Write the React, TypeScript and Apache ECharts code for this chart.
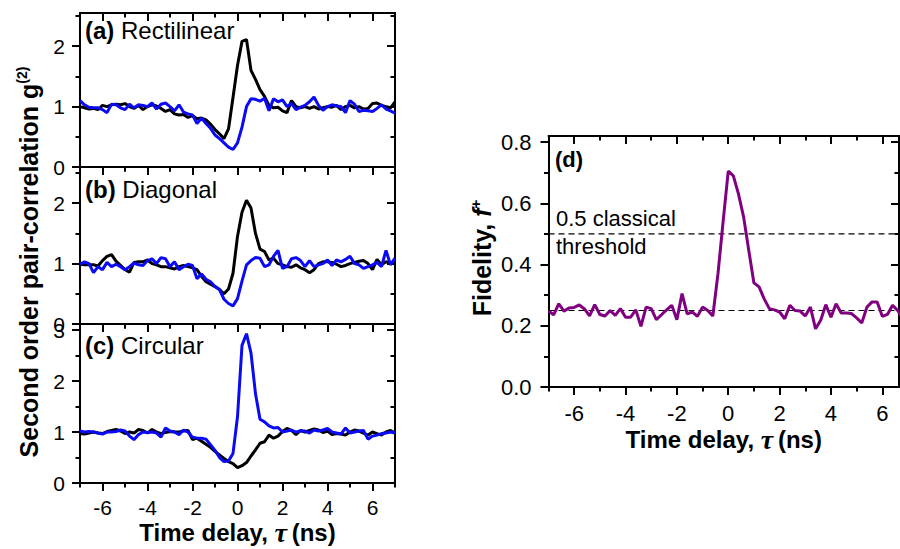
import React, { useEffect, useRef } from "react";
import * as echarts from "echarts";

// time delay grid (ns)
const TAU = [-7, -6.8, -6.6, -6.4, -6.2, -6, -5.8, -5.6, -5.4, -5.2, -5, -4.8, -4.6, -4.4, -4.2, -4, -3.8, -3.6, -3.4, -3.2, -3, -2.8, -2.6, -2.4, -2.2, -2, -1.8, -1.6, -1.4, -1.2, -1, -0.8, -0.6, -0.4, -0.2, 0, 0.2, 0.4, 0.6, 0.8, 1, 1.2, 1.4, 1.6, 1.8, 2, 2.2, 2.4, 2.6, 2.8, 3, 3.2, 3.4, 3.6, 3.8, 4, 4.2, 4.4, 4.6, 4.8, 5, 5.2, 5.4, 5.6, 5.8, 6, 6.2, 6.4, 6.6, 6.8, 7];

// (a) Rectilinear
const A_BLACK = [
  1.00, 0.98, 0.96, 0.97, 0.95, 1.02, 1.00, 1.03, 1.04, 1.03,
  1.05, 1.00, 0.97, 1.02, 0.95, 1.00, 1.03, 1.01, 0.97, 0.92,
  0.95, 0.88, 0.86, 0.87, 0.82, 0.85, 0.80, 0.81, 0.78, 0.71,
  0.62, 0.55, 0.47, 0.63, 1.15, 1.68, 2.08, 2.11, 1.60, 1.45,
  1.28, 1.17, 1.02, 0.98, 0.99, 0.93, 0.90, 1.10, 1.00, 0.98,
  1.00, 0.97, 1.00, 0.96, 0.98, 1.00, 0.99, 1.02, 0.95, 1.00,
  1.02, 0.98, 1.00, 0.96, 0.97, 1.05, 1.06, 1.02, 1.00, 0.98,
  1.08,
];
const A_BLUE = [
  1.10, 1.03, 0.99, 0.98, 0.98, 0.95, 0.90, 1.04, 1.03, 0.98,
  0.95, 1.04, 0.98, 1.03, 1.02, 1.00, 1.06, 0.96, 1.04, 1.06,
  1.00, 0.93, 1.03, 0.91, 0.88, 0.86, 0.72, 0.81, 0.72, 0.64,
  0.53, 0.47, 0.40, 0.33, 0.29, 0.40, 0.66, 1.00, 1.13, 1.12,
  1.09, 1.14, 0.93, 1.13, 1.08, 1.11, 1.00, 1.05, 0.95, 0.99,
  1.02, 1.08, 1.16, 1.02, 0.94, 1.00, 1.03, 1.01, 1.00, 0.90,
  1.10, 1.04, 0.92, 0.94, 0.93, 0.92, 0.97, 1.03, 0.96, 0.93,
  0.89,
];

// (b) Diagonal
const B_BLACK = [
  0.99, 0.98, 0.98, 0.98, 0.96, 1.05, 1.12, 1.15, 1.04, 0.97,
  0.90, 0.86, 1.02, 1.03, 1.03, 1.06, 1.00, 0.98, 0.95, 0.95,
  0.93, 0.91, 0.95, 0.97, 0.95, 0.93, 0.90, 0.79, 0.70, 0.66,
  0.62, 0.57, 0.50, 0.58, 0.84, 1.45, 1.85, 2.05, 1.92, 1.50,
  1.24, 1.20, 1.06, 1.09, 1.00, 0.98, 0.95, 0.94, 0.98, 0.93,
  0.90, 0.85, 0.90, 1.00, 1.03, 1.03, 1.02, 0.99, 0.95, 0.97,
  1.00, 1.02, 1.04, 1.05, 1.00, 0.90, 1.07, 0.98, 1.03, 1.02,
  1.00,
];
const B_BLUE = [
  0.99, 1.03, 1.00, 0.85, 0.95, 0.90, 1.02, 0.95, 0.99, 0.95,
  0.90, 0.95, 1.01, 0.98, 0.97, 1.05, 1.08, 1.00, 1.10, 1.08,
  0.95, 1.03, 0.90, 0.95, 0.99, 0.97, 0.75, 0.83, 0.74, 0.70,
  0.62, 0.57, 0.41, 0.34, 0.30, 0.42, 0.71, 0.98, 1.05, 1.10,
  1.09, 0.95, 0.98, 1.12, 1.22, 0.92, 0.95, 1.08, 1.10, 1.05,
  0.95, 1.05, 0.95, 0.98, 1.00, 1.06, 0.97, 1.06, 1.03, 1.07,
  1.12, 1.00, 0.98, 0.92, 0.95, 0.98, 1.02, 0.95, 1.22, 0.98,
  1.09,
];

// (c) Circular
const C_BLACK = [
  0.97, 0.96, 0.98, 1.00, 0.98, 0.97, 1.01, 1.03, 1.05, 1.02,
  0.97, 1.00, 0.98, 1.05, 1.03, 0.98, 1.05, 1.00, 0.97, 0.99,
  1.01, 1.00, 1.00, 1.02, 1.03, 0.85, 0.88, 0.82, 0.76, 0.70,
  0.62, 0.55, 0.48, 0.42, 0.38, 0.30, 0.34, 0.40, 0.53, 0.65,
  0.78, 0.81, 0.94, 0.88, 0.92, 1.01, 1.07, 1.03, 0.95, 1.03,
  1.00, 1.03, 1.06, 1.04, 0.99, 1.02, 0.95, 0.97, 0.96, 0.94,
  1.00, 1.04, 1.02, 0.98, 0.94, 1.00, 0.97, 0.94, 1.00, 1.03,
  0.98,
];
const C_BLUE = [
  1.02, 1.00, 1.01, 1.00, 0.98, 0.96, 1.00, 1.00, 1.01, 1.04,
  1.02, 0.92, 0.85, 0.95, 1.00, 0.99, 1.00, 0.98, 0.90, 1.08,
  1.02, 1.00, 0.95, 1.04, 1.00, 0.90, 0.88, 0.88, 0.86, 0.75,
  0.64, 0.50, 0.42, 0.43, 0.58, 1.30, 2.70, 2.93, 2.55, 1.75,
  1.25, 1.20, 1.12, 1.08, 1.09, 1.00, 1.02, 1.04, 1.00, 1.02,
  1.02, 0.98, 1.04, 1.02, 1.04, 1.07, 1.00, 0.98, 0.96, 1.08,
  0.98, 1.00, 1.02, 1.03, 0.86, 0.92, 0.94, 0.97, 0.98, 1.00,
  0.98,
];

// (d) Fidelity
const D_FID = [
  0.248, 0.236, 0.272, 0.248, 0.258, 0.260, 0.268, 0.255, 0.232, 0.269,
  0.237, 0.232, 0.250, 0.234, 0.256, 0.228, 0.228, 0.252, 0.198, 0.261,
  0.256, 0.220, 0.236, 0.252, 0.267, 0.220, 0.305, 0.239, 0.245, 0.231,
  0.261, 0.250, 0.232, 0.370, 0.540, 0.705, 0.690, 0.630, 0.555, 0.446,
  0.340, 0.327, 0.288, 0.256, 0.252, 0.245, 0.223, 0.267, 0.250, 0.248,
  0.232, 0.261, 0.190, 0.218, 0.269, 0.228, 0.272, 0.242, 0.242, 0.240,
  0.226, 0.209, 0.261, 0.278, 0.278, 0.231, 0.237, 0.267, 0.250, 0.223,
  0.240,
];
const THRESHOLDS = [0.5, 0.25];

// tick values
const X_MAJOR = [-6, -4, -2, 0, 2, 4, 6];
const X_MINOR = [-7, -5, -3, -1, 1, 3, 5, 7];
const G_MAJOR_AB = [0, 1, 2];
const G_MAJOR_C = [0, 1, 2, 3];
const G_MINOR = [0.5, 1.5, 2.5];
const F_MAJOR = [0, 0.2, 0.4, 0.6, 0.8];
const F_MINOR = [0.1, 0.3, 0.5, 0.7];

// axis ranges per panel
const X_MIN = -7;
const X_MAX_LEFT = 7;
const X_MAX_D = 6.65;
const Y_MAX = [2.55, 2.6, 3.12, 0.82];

const GRIDS = [
  { left: 80, top: 13, width: 315, height: 154 },
  { left: 80, top: 167, width: 315, height: 157 },
  { left: 80, top: 324, width: 315, height: 159 },
  { left: 548.5, top: 136, width: 350.5, height: 251 },
];

const SANS = "Liberation Sans, Arial, sans-serif";
const SERIF = "Liberation Serif, Times New Roman, serif";
const INK = "#000000";
const MAJOR_LEN = 8;
const MINOR_LEN = 4.5;
const PER_GRID = 4; // axes per orientation per grid

function lineOn() {
  return { show: true, onZero: false, lineStyle: { color: INK, width: 2 } };
}
function lineOff() {
  return { show: false, onZero: false };
}
function tickSet(vals: number[], len: number, inside: boolean) {
  return { show: true, inside, length: len, customValues: vals, lineStyle: { color: INK, width: 2 } };
}

function xAxesFor(gridIndex: number, max: number, labels: boolean, fontSize: number, labelMargin: number, nameGap: number) {
  const major = X_MAJOR.filter((v) => v <= max);
  const minor = X_MINOR.filter((v) => v <= max);
  const base = { type: "value", gridIndex, min: X_MIN, max, splitLine: { show: false } };
  const named = labels
    ? {
        name: "{b|Time delay, }{t|τ}{b|\u2009(ns)}",
        nameLocation: "middle",
        nameGap,
        nameTextStyle: {
          rich: {
            b: { fontFamily: SANS, fontWeight: "bold", fontSize: 24, color: INK, lineHeight: 28 },
            t: { fontFamily: SERIF, fontStyle: "italic", fontWeight: "bold", fontSize: 28, color: INK, lineHeight: 28 },
          },
        },
      }
    : {};
  return [
    {
      ...base, position: "bottom", axisLine: lineOn(), axisTick: tickSet(major, MAJOR_LEN, false),
      axisLabel: labels
        ? { show: true, customValues: major, margin: labelMargin, fontSize, fontFamily: SANS, color: INK, formatter: (v: number) => String(v) }
        : { show: false },
      ...named,
    },
    { ...base, position: "bottom", axisLine: lineOff(), axisTick: tickSet(minor, MINOR_LEN, false), axisLabel: { show: false } },
    { ...base, position: "top", axisLine: lineOn(), axisTick: tickSet(major, MAJOR_LEN, true), axisLabel: { show: false } },
    { ...base, position: "top", axisLine: lineOff(), axisTick: tickSet(minor, MINOR_LEN, true), axisLabel: { show: false } },
  ];
}

function yAxesFor(gridIndex: number, max: number, major: number[], minor: number[], fontSize: number, labelMargin: number, fmt: (v: number) => string) {
  const base = { type: "value", gridIndex, min: 0, max, splitLine: { show: false } };
  return [
    {
      ...base, position: "left", axisLine: lineOn(), axisTick: tickSet(major, MAJOR_LEN, false),
      axisLabel: { show: true, customValues: major, margin: labelMargin, fontSize, fontFamily: SANS, color: INK, formatter: fmt },
    },
    { ...base, position: "left", axisLine: lineOff(), axisTick: tickSet(minor, MINOR_LEN, false), axisLabel: { show: false } },
    { ...base, position: "right", axisLine: lineOn(), axisTick: tickSet(major, MAJOR_LEN, true), axisLabel: { show: false } },
    { ...base, position: "right", axisLine: lineOff(), axisTick: tickSet(minor, MINOR_LEN, true), axisLabel: { show: false } },
  ];
}

function lineSeries(gridIndex: number, values: number[], color: string, width: number) {
  return {
    type: "line",
    xAxisIndex: gridIndex * PER_GRID,
    yAxisIndex: gridIndex * PER_GRID,
    data: TAU.map((t, i) => [t, values[i]]),
    symbol: "none",
    lineStyle: { color, width },
    itemStyle: { color },
    z: 2,
  };
}

function thresholdSeries(v: number) {
  return {
    type: "line",
    xAxisIndex: 3 * PER_GRID,
    yAxisIndex: 3 * PER_GRID,
    data: [[X_MIN, v], [X_MAX_D, v]],
    symbol: "none",
    silent: true,
    lineStyle: { color: INK, width: 1.2, type: [6, 4] },
    itemStyle: { color: INK },
    z: 1,
  };
}

function panelLabel(x: number, y: number, tag: string, label: string, size: number) {
  return {
    type: "text",
    x,
    y,
    style: {
      text: label ? `{b|${tag}}{n| ${label}}` : `{b|${tag}}`,
      align: "left",
      verticalAlign: "middle",
      rich: {
        b: { fontFamily: SANS, fontWeight: "bold", fontSize: size, fill: INK },
        n: { fontFamily: SANS, fontSize: size, fill: INK },
      },
    },
  };
}

function plainText(x: number, y: number, text: string, size: number) {
  return {
    type: "text",
    x,
    y,
    style: { text, align: "left", verticalAlign: "middle", fontFamily: SANS, fontSize: size, fill: INK },
  };
}

export default function App() {
  const ref = useRef<HTMLDivElement>(null);

  useEffect(() => {
    if (!ref.current) return;
    const chart = echarts.init(ref.current, undefined, { renderer: "svg" });

    const intFmt = (v: number) => String(v);
    const decFmt = (v: number) => v.toFixed(1);

    const option: any = {
      animation: false,
      grid: GRIDS.map((g) => ({ ...g })),
      xAxis: [
        ...xAxesFor(0, X_MAX_LEFT, false, 21, 14, 32),
        ...xAxesFor(1, X_MAX_LEFT, false, 21, 14, 32),
        ...xAxesFor(2, X_MAX_LEFT, true, 21, 14, 32),
        ...xAxesFor(3, X_MAX_D, true, 22, 15, 38),
      ],
      yAxis: [
        ...yAxesFor(0, Y_MAX[0], G_MAJOR_AB, G_MINOR, 21, 15, intFmt),
        ...yAxesFor(1, Y_MAX[1], G_MAJOR_AB, G_MINOR, 21, 15, intFmt),
        ...yAxesFor(2, Y_MAX[2], G_MAJOR_C, G_MINOR, 21, 15, intFmt),
        ...yAxesFor(3, Y_MAX[3], F_MAJOR, F_MINOR, 22, 17, decFmt),
      ],
      series: [
        lineSeries(0, A_BLACK, "#000000", 3),
        lineSeries(0, A_BLUE, "#0a0af5", 3),
        lineSeries(1, B_BLACK, "#000000", 3),
        lineSeries(1, B_BLUE, "#0a0af5", 3),
        lineSeries(2, C_BLACK, "#000000", 3),
        lineSeries(2, C_BLUE, "#0a0af5", 3),
        ...THRESHOLDS.map((v) => thresholdSeries(v)),
        lineSeries(3, D_FID, "#800080", 3),
      ],
      graphic: [
        panelLabel(85, 30, "(a)", "Rectilinear", 24),
        panelLabel(85, 189, "(b)", "Diagonal", 24),
        panelLabel(85, 345, "(c)", "Circular", 24),
        panelLabel(555, 159, "(d)", "", 22),
        plainText(556, 218, "0.5 classical", 22),
        plainText(556, 246, "threshold", 22),
        {
          type: "text",
          x: 29,
          y: 262,
          rotation: Math.PI / 2,
          style: {
            text: "{t|Second order pair-correlation g}{s|(2)}",
            align: "center",
            verticalAlign: "middle",
            rich: {
              t: { fontFamily: SANS, fontWeight: "bold", fontSize: 25, fill: INK, lineHeight: 28 },
              s: { fontFamily: SANS, fontWeight: "bold", fontSize: 14, fill: INK, lineHeight: 14, verticalAlign: "top" },
            },
          },
        },
        {
          type: "text",
          x: 482,
          y: 258,
          rotation: Math.PI / 2,
          style: {
            text: "{t|Fidelity, }{i|f}{s|+}",
            align: "center",
            verticalAlign: "middle",
            rich: {
              t: { fontFamily: SANS, fontWeight: "bold", fontSize: 25, fill: INK, lineHeight: 28 },
              i: { fontFamily: SANS, fontWeight: "bold", fontStyle: "italic", fontSize: 25, fill: INK, lineHeight: 28 },
              s: { fontFamily: SANS, fontWeight: "bold", fontSize: 15, fill: INK, lineHeight: 15, verticalAlign: "top" },
            },
          },
        },
      ],
    };

    chart.setOption(option);
    return () => chart.dispose();
  }, []);

  return (
    <div style={{ position: "fixed", left: 0, top: 0, width: 900, height: 549, background: "#fff" }}>
      <div ref={ref} style={{ width: 900, height: 549 }} />
    </div>
  );
}
